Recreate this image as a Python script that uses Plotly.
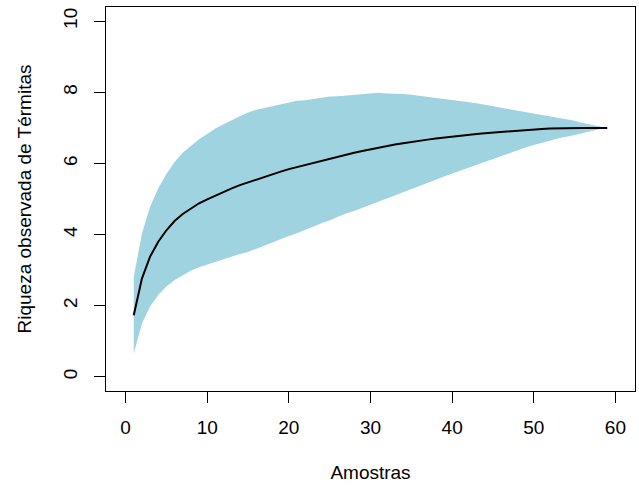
import plotly.graph_objects as go

# Species accumulation (specaccum) data
amostras = list(range(1, 60))
riqueza = [1.73, 2.76, 3.38, 3.80, 4.12, 4.38, 4.58, 4.74, 4.88, 4.99,
           5.10, 5.20, 5.30, 5.39, 5.47, 5.55, 5.62, 5.69, 5.77, 5.84,
           5.90, 5.96, 6.02, 6.08, 6.14, 6.19, 6.25, 6.30, 6.35, 6.40,
           6.45, 6.49, 6.53, 6.57, 6.61, 6.64, 6.67, 6.70, 6.73, 6.76,
           6.79, 6.81, 6.83, 6.85, 6.87, 6.89, 6.91, 6.93, 6.95, 6.96,
           6.97, 6.98, 6.99, 6.99, 7.00, 7.00, 7.00, 7.00, 7.00]
desvio = [0.54, 0.63, 0.70, 0.75, 0.79, 0.83, 0.86, 0.88, 0.90, 0.92,
          0.94, 0.95, 0.96, 0.97, 0.98, 0.98, 0.97, 0.96, 0.95, 0.94,
          0.93, 0.91, 0.90, 0.88, 0.87, 0.85, 0.83, 0.82, 0.80, 0.79,
          0.77, 0.74, 0.72, 0.69, 0.66, 0.63, 0.61, 0.58, 0.55, 0.52,
          0.49, 0.46, 0.43, 0.40, 0.37, 0.34, 0.31, 0.28, 0.25, 0.22,
          0.19, 0.17, 0.14, 0.12, 0.10, 0.07, 0.05, 0.02, 0.00]

x_ticks = [0, 10, 20, 30, 40, 50, 60]
y_ticks = [0, 2, 4, 6, 8, 10]

upper = [m + 2 * s for m, s in zip(riqueza, desvio)]
lower = [m - 2 * s for m, s in zip(riqueza, desvio)]

FONT = "Liberation Sans, Arial, sans-serif"

fig = go.Figure()
fig.add_trace(go.Scatter(
    x=amostras + amostras[::-1],
    y=upper + lower[::-1],
    fill="toself", fillcolor="#a0d3e0",
    line=dict(width=0, color="#a0d3e0"),
    mode="lines", hoverinfo="skip", showlegend=False))
fig.add_trace(go.Scatter(
    x=amostras, y=riqueza, mode="lines",
    line=dict(color="black", width=2), showlegend=False))

axis_common = dict(
    showgrid=False, zeroline=False, showline=True, linecolor="black",
    linewidth=1, mirror=True, ticks="outside", ticklen=11, tickwidth=1,
    tickcolor="black", tickfont=dict(family=FONT, size=19, color="black"),
)

fig.update_layout(
    width=639, height=487,
    margin=dict(l=106, r=4, t=7, b=96),
    paper_bgcolor="white", plot_bgcolor="white",
    font=dict(family=FONT, size=19, color="black"),
    xaxis=dict(range=[-2.4, 62.4], tickvals=x_ticks, ticklabelstandoff=8,
               title=dict(text="Amostras", standoff=28,
                          font=dict(family=FONT, size=19, color="black")),
               **axis_common),
    yaxis=dict(range=[-0.4, 10.4], tickvals=y_ticks, tickangle=-90,
               ticklabelstandoff=9,
               title=dict(text="Riqueza observada de Térmitas", standoff=23,
                          font=dict(family=FONT, size=19, color="black")),
               **axis_common),
)

fig.write_html("out.html", config={"displayModeBar": False},
               post_script="document.body.style.margin='0';document.body.style.padding='0';")
